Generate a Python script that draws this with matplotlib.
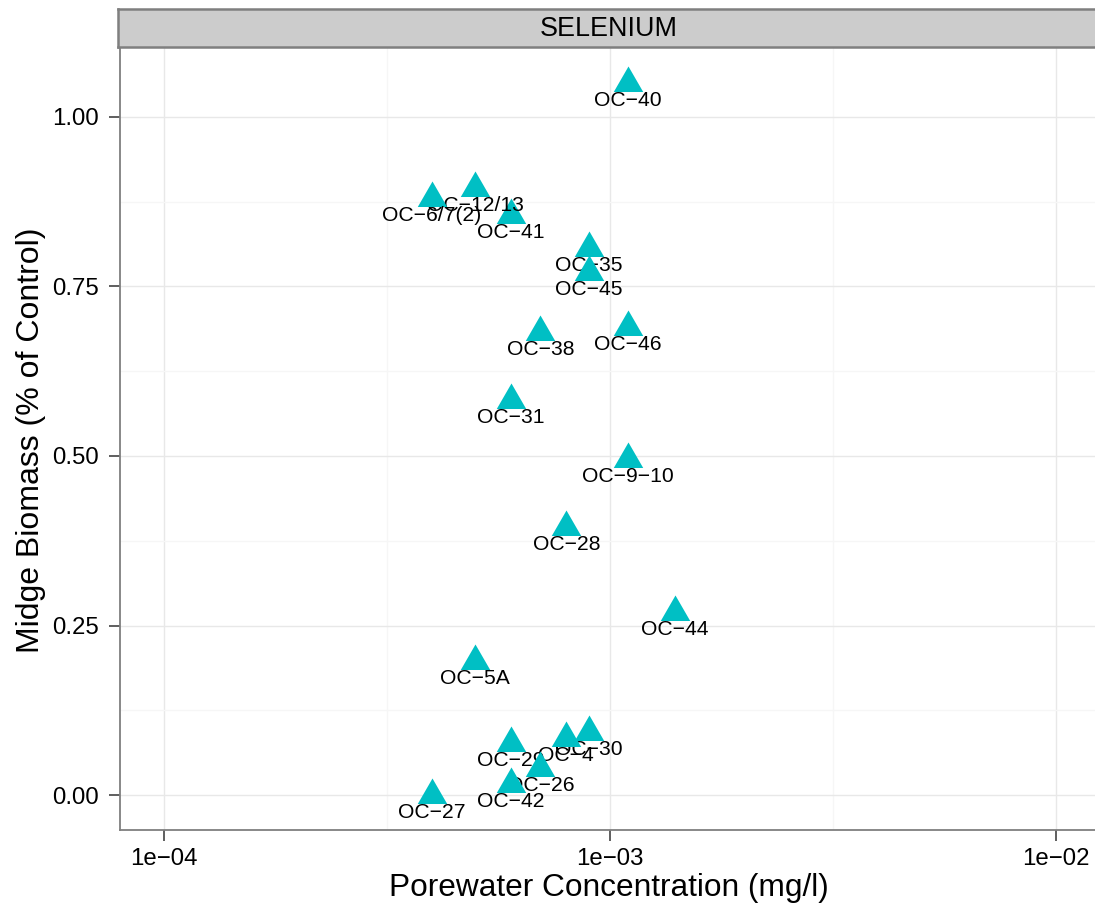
import numpy as np
import matplotlib.pyplot as plt
from matplotlib.path import Path

plt.rcParams['font.family'] = ['Liberation Sans', 'DejaVu Sans']

# sites, in drawing order
sites = ['OC−40', 'OC−41', 'OC−12/13', 'OC−6/7(2)', 'OC−35', 'OC−45', 'OC−38', 'OC−46',
         'OC−31', 'OC−9−10', 'OC−28', 'OC−44', 'OC−5A', 'OC−27', 'OC−30', 'OC−4',
         'OC−29', 'OC−26', 'OC−42']
conc = [0.0011, 0.0006, 0.0005, 0.0004, 0.0009, 0.0009, 0.0007, 0.0011,
        0.0006, 0.0011, 0.0008, 0.0014, 0.0005, 0.0004, 0.0009, 0.0008,
        0.0006, 0.0007, 0.0006]
biomass = [1.05, 0.855, 0.895, 0.88, 0.807, 0.772, 0.683, 0.69,
           0.583, 0.495, 0.395, 0.27, 0.197, 0.0, 0.093, 0.084,
           0.077, 0.04, 0.016]

y_ticks = [0.0, 0.25, 0.5, 0.75, 1.0]
y_ticklabels = ['0.00', '0.25', '0.50', '0.75', '1.00']
x_ticks = [1e-4, 1e-3, 1e-2]
x_ticklabels = ['1e−04', '1e−03', '1e−02']

W, H = 1095, 914
fig = plt.figure(figsize=(W / 100, H / 100), dpi=100)

# panel (right edge runs off the canvas like the original)
ax = fig.add_axes([120 / W, (H - 830) / H, 980 / W, 783 / H])
ax.set_xscale('log')
left = -4 - 43.5 / 446
ax.set_xlim(10 ** left, 10 ** (left + 980 / 446))
ax.set_ylim(-35 / 678, 1 + 70 / 678)

ax.set_xticks(x_ticks)
ax.set_xticklabels(x_ticklabels)
ax.set_xticks([10 ** -3.5, 10 ** -2.5], minor=True)
ax.set_yticks(y_ticks)
ax.set_yticklabels(y_ticklabels)
ax.set_yticks([0.125, 0.375, 0.625, 0.875], minor=True)

ax.grid(True, which='major', color='#E8E8E8', lw=1.0)
ax.grid(True, which='minor', color='#F6F6F6', lw=1.0)
ax.set_axisbelow(True)
ax.tick_params(which='major', length=8, width=1.1, color='#333333', labelsize=17.3)
ax.tick_params(axis='y', pad=7)
ax.tick_params(axis='x', pad=5)
ax.tick_params(which='minor', length=0)
for s in ax.spines.values():
    s.set_color('#7F7F7F')
    s.set_linewidth(1.3)

# equilateral triangle marker, centred on its centroid
tri = Path([(-1, -0.5774), (1, -0.5774), (0, 1.1547), (-1, -0.5774)],
           [Path.MOVETO, Path.LINETO, Path.LINETO, Path.CLOSEPOLY])

for i, (s, x, y) in enumerate(zip(sites, conc, biomass)):
    ax.plot([x], [y], marker=tri, ms=24.5, color='#00BFC4', mec='none',
            ls='none', zorder=3 + 2 * i)
    ax.annotate(s, (x, y), xytext=(0, -16.5), textcoords='offset points',
                ha='center', va='baseline', fontsize=15.2, color='black',
                zorder=4 + 2 * i)

# facet strip
strip = fig.add_axes([118 / W, (H - 47) / H, 990 / W, 38 / H])
strip.set_xticks([])
strip.set_yticks([])
strip.set_facecolor('#CCCCCC')
for s in strip.spines.values():
    s.set_color('#7F7F7F')
    s.set_linewidth(1.8)
fig.text(609 / W, (H - 29) / H, 'SELENIUM', ha='center', va='center', fontsize=19.4)

fig.text(609 / W, (H - 888) / H, 'Porewater Concentration (mg/l)',
         ha='center', va='center', fontsize=22.8)
fig.text(31 / W, (H - 440) / H, 'Midge Biomass (% of Control)',
         ha='center', va='center', rotation=90, fontsize=23)

fig.savefig('out.png', dpi=100)
